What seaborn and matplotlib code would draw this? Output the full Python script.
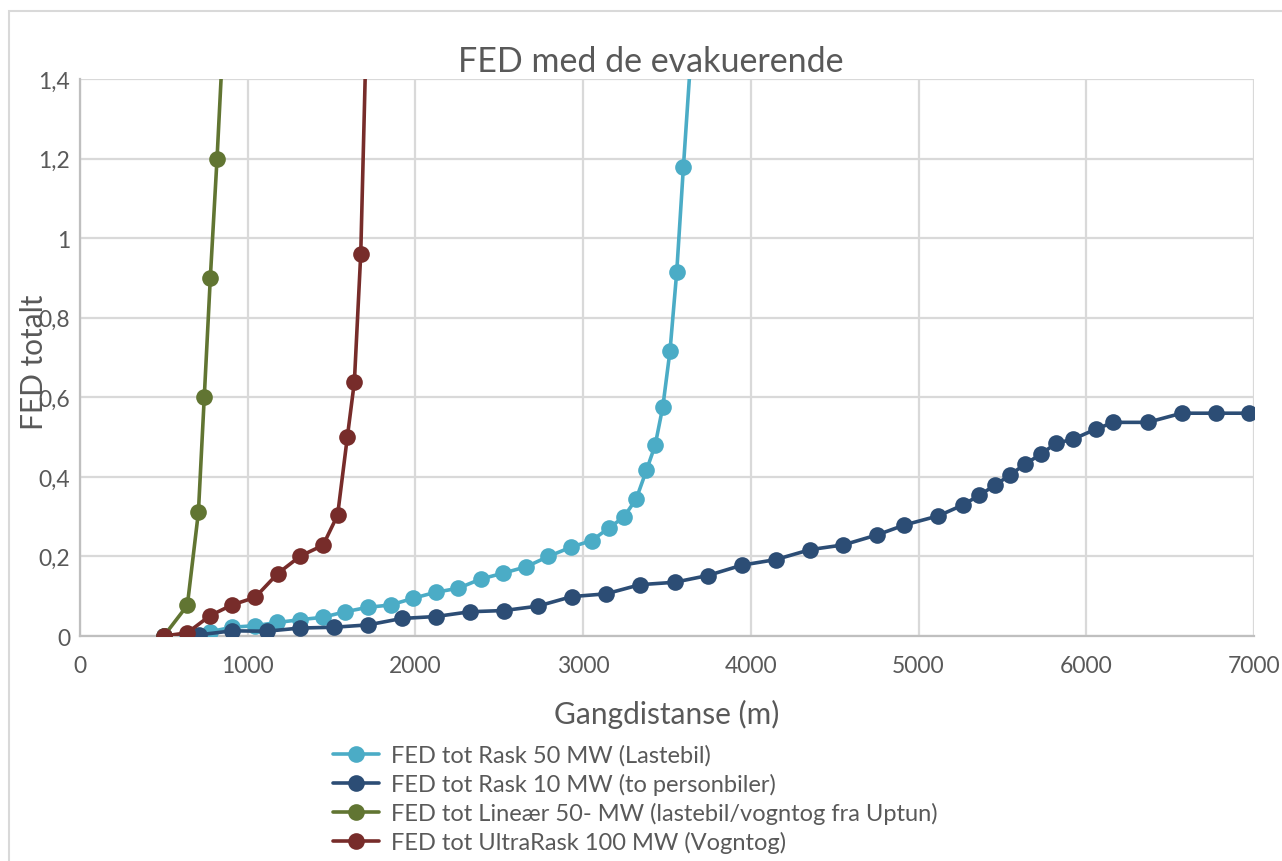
import matplotlib
matplotlib.use("Agg")
import matplotlib.pyplot as plt
import matplotlib.patches as mpatches
import seaborn as sns
import pandas as pd

# ---- data ----
series_names = [
    "FED tot Rask 50 MW (Lastebil)",
    "FED tot Rask 10 MW (to personbiler)",
    "FED tot Lineær 50- MW (lastebil/vogntog fra Uptun)",
    "FED tot UltraRask 100 MW (Vogntog)",
]
series_colors = ["#4BACC6", "#2C4D75", "#617532", "#772C2A"]

rask50_x = [500, 640, 775, 908, 1044, 1177, 1312, 1447, 1582, 1715, 1852, 1988,
            2121, 2256, 2388, 2524, 2660, 2793, 2926, 3051, 3156, 3242, 3316,
            3377, 3429, 3475, 3518, 3558, 3598, 3641]
rask50_y = [0.0, 0.003, 0.011, 0.022, 0.026, 0.034, 0.041, 0.047, 0.061, 0.072,
            0.078, 0.095, 0.110, 0.120, 0.143, 0.158, 0.174, 0.200, 0.223, 0.240,
            0.272, 0.299, 0.344, 0.416, 0.479, 0.576, 0.717, 0.915, 1.180, 1.45]

rask10_x = [500, 710, 908, 1113, 1312, 1515, 1719, 1918, 2123, 2326, 2528, 2729,
            2932, 3137, 3339, 3545, 3743, 3946, 4148, 4353, 4552, 4752, 4916,
            5118, 5263, 5363, 5456, 5546, 5635, 5729, 5818, 5923, 6057, 6162,
            6366, 6569, 6772, 6973]
rask10_y = [0.0, 0.003, 0.013, 0.012, 0.020, 0.022, 0.028, 0.044, 0.049, 0.061,
            0.064, 0.075, 0.099, 0.106, 0.129, 0.135, 0.152, 0.178, 0.192, 0.217,
            0.229, 0.254, 0.279, 0.302, 0.329, 0.354, 0.379, 0.405, 0.432, 0.457,
            0.484, 0.495, 0.520, 0.537, 0.537, 0.560, 0.560, 0.560]

linear50_x = [500, 640, 706, 741, 777, 817, 853]
linear50_y = [0.0, 0.077, 0.311, 0.601, 0.900, 1.199, 1.50]

ultra100_x = [500, 640, 775, 906, 1044, 1179, 1314, 1449, 1536, 1594, 1636, 1674, 1712]
ultra100_y = [0.0, 0.008, 0.051, 0.078, 0.097, 0.157, 0.201, 0.228, 0.304, 0.500,
              0.639, 0.961, 1.60]

x_ticks = [0, 1000, 2000, 3000, 4000, 5000, 6000, 7000]
y_ticks = [0, 0.2, 0.4, 0.6, 0.8, 1.0, 1.2, 1.4]
y_tick_labels = ["0", "0,2", "0,4", "0,6", "0,8", "1", "1,2", "1,4"]

title = "FED med de evakuerende"
x_label = "Gangdistanse (m)"
y_label = "FED totalt"

frames = []
for name, xs, ys in [
    (series_names[0], rask50_x, rask50_y),
    (series_names[1], rask10_x, rask10_y),
    (series_names[2], linear50_x, linear50_y),
    (series_names[3], ultra100_x, ultra100_y),
]:
    frames.append(pd.DataFrame({"x": xs, "y": ys, "serie": name}))
df = pd.concat(frames, ignore_index=True)

# ---- styling ----
sns.set_theme(style="white")
plt.rcParams["font.family"] = ["Lato", "DejaVu Sans"]
text_color = "#595959"
grid_color = "#D9D9D9"

W, H = 1282, 862
fig = plt.figure(figsize=(W / 100, H / 100), dpi=100)
ax = fig.add_axes([80 / W, 1 - 637 / H, (1254 - 80) / W, (637 - 80) / H])

# outer chart border
fig.patches.append(mpatches.Rectangle((9 / W, -0.05), 1.2, 1 - 12 / H + 0.05,
                                      transform=fig.transFigure, fill=False,
                                      edgecolor="#D9D9D9", linewidth=1.5))

sns.lineplot(data=df, x="x", y="y", hue="serie", hue_order=series_names,
             palette=series_colors, estimator=None, sort=False,
             marker="o", markersize=12, markeredgewidth=0, linewidth=2.6,
             ax=ax, legend=True, zorder=3)

ax.set_xlim(0, 7000)
ax.set_ylim(0, 1.4)
ax.set_xticks(x_ticks)
ax.set_xticklabels([str(v) for v in x_ticks])
ax.set_yticks(y_ticks)
ax.set_yticklabels(y_tick_labels)
ax.tick_params(axis="x", length=0, labelsize=16.5, labelcolor=text_color, pad=14)
ax.tick_params(axis="y", length=0, labelsize=16.5, labelcolor=text_color, pad=7)
ax.grid(True, color=grid_color, linewidth=1.6)
ax.set_axisbelow(True)
for s in ["top", "right"]:
    ax.spines[s].set_visible(False)
for s in ["left", "bottom"]:
    ax.spines[s].set_color("#BFBFBF")
    ax.spines[s].set_linewidth(1.6)

ax.set_title(title, fontsize=24.5, color=text_color, pad=6, x=(651 - 80) / (1254 - 80))
ax.set_xlabel(x_label, fontsize=21.5, color=text_color, labelpad=16)
ax.set_ylabel("")
fig.text(34 / W, 1 - 362 / H, y_label, rotation=90, ha="center", va="center",
         fontsize=21.5, color=text_color)

handles, labels = ax.get_legend_handles_labels()
ax.get_legend().remove()
fig.legend(handles, labels, loc="upper left", bbox_to_anchor=(324 / W, 1 - 736 / H),
           frameon=False, fontsize=17, labelcolor=text_color, handlelength=1.95,
           handletextpad=0.5, labelspacing=0.3, borderaxespad=0)

fig.savefig("out.png", dpi=100)
